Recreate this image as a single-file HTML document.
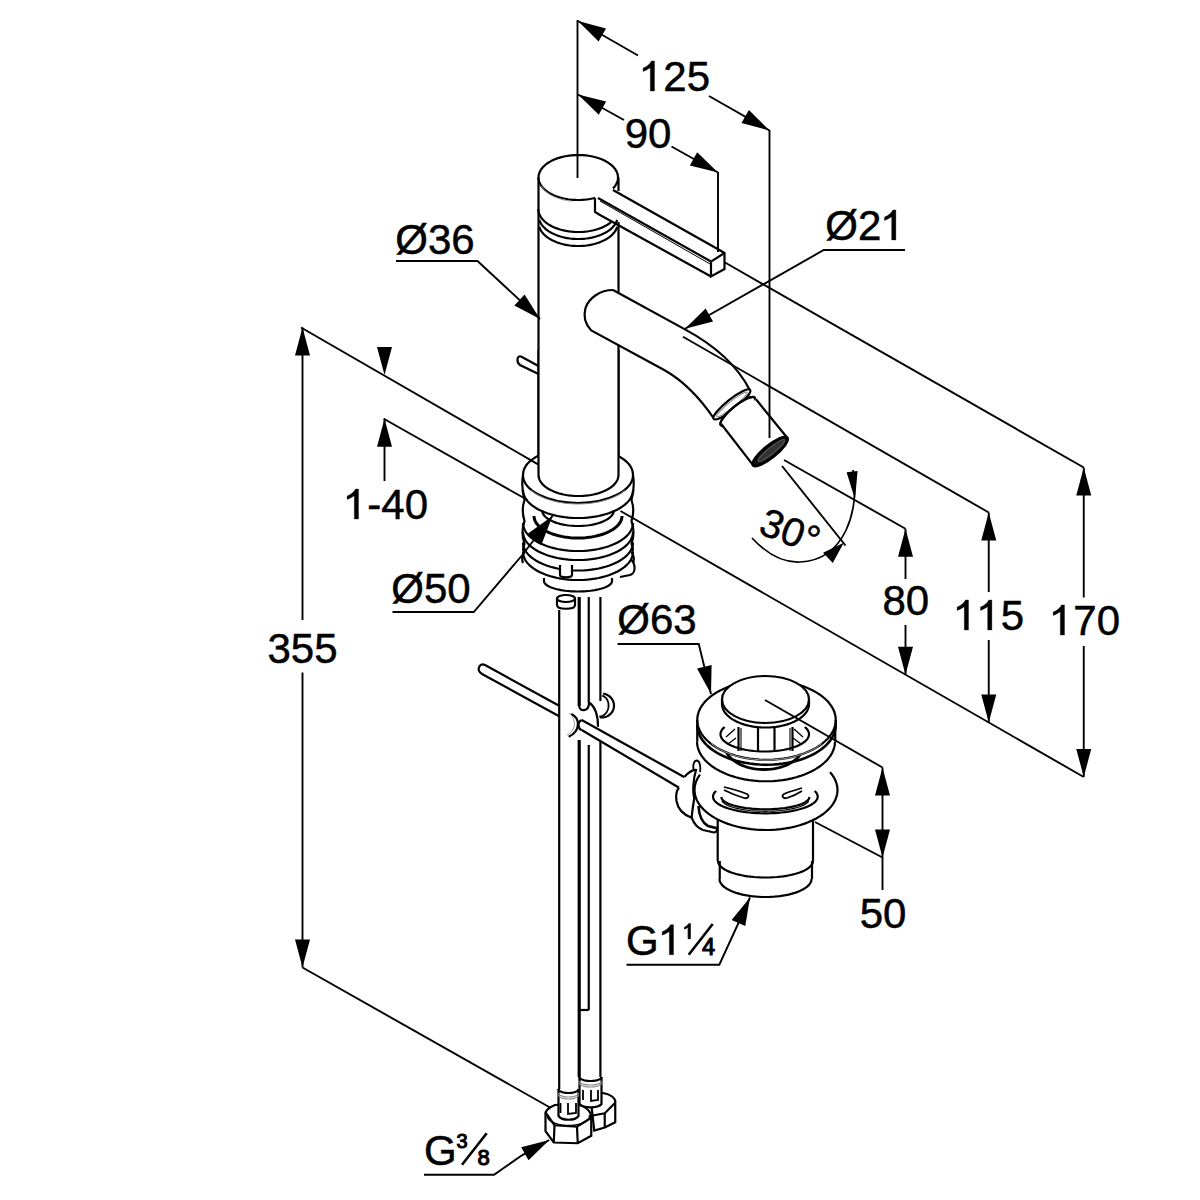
<!DOCTYPE html>
<html><head><meta charset="utf-8"><style>
html,body{margin:0;padding:0;background:#fff;width:1200px;height:1200px;overflow:hidden}
svg{display:block}
text{font-family:"Liberation Sans",sans-serif;fill:#000;stroke:#000;stroke-width:0.5px}
</style></head><body>
<svg width="1200" height="1200" viewBox="0 0 1200 1200">
<rect width="1200" height="1200" fill="#fff"/>
<g stroke="#000" stroke-linecap="butt" stroke-linejoin="miter" fill="none">
<polyline points="595.05,197.89 592.50,198.51 589.87,199.02 587.19,199.42 584.47,199.72 581.71,199.91 578.94,200.00 576.17,199.97 573.41,199.83 570.67,199.59 567.96,199.23 565.31,198.77 562.72,198.21 560.20,197.55 557.78,196.79 555.45,195.93 553.23,194.99 551.14,193.96 549.18,192.84 547.36,191.66 545.69,190.41 544.18,189.09 542.83,187.71 541.66,186.29 540.67,184.83 539.85,183.32 539.23,181.79 538.80,180.24 538.55,178.68 538.51,177.11 538.65,175.54 538.99,173.98 539.52,172.44 540.24,170.92 541.14,169.44 542.22,167.99 543.48,166.59 544.91,165.25 546.50,163.96 548.25,162.74 550.14,161.59 552.17,160.52 554.33,159.53 556.60,158.63 558.98,157.82 561.45,157.11 564.00,156.49 566.63,155.98 569.31,155.58 572.03,155.28 574.79,155.09 577.56,155.00 580.33,155.03 583.09,155.17 585.83,155.41 588.54,155.77 591.19,156.23 593.78,156.79 596.30,157.45 598.72,158.21 601.05,159.07 603.27,160.01 605.36,161.04 607.32,162.16 609.14,163.34 610.81,164.59 612.32,165.91 613.67,167.29 614.84,168.71 615.83,170.17 616.65,171.68 617.27,173.21 617.70,174.76 617.95,176.32 617.99,177.89 617.85,179.46 617.51,181.02 616.98,182.56 616.26,184.08 615.36,185.56 614.28,187.01 613.02,188.41" fill="none" stroke-width="2.2"/>
<polyline points="571.65,201.18 569.02,200.87 566.43,200.46 563.90,199.95 561.44,199.33 559.07,198.63 556.79,197.83 554.63,196.95 552.58,195.98 550.66,194.94 548.88,193.82 547.24,192.64 545.76,191.39 544.45,190.09 543.30,188.75 542.33,187.36 541.54,185.94" fill="none" stroke-width="1" stroke="#999"/>
<line x1="538.50" y1="177.50" x2="538.50" y2="475.00" stroke-width="2.2"/>
<line x1="618.50" y1="177.50" x2="618.50" y2="191.00" stroke-width="2.2"/>
<polyline points="611.02,222.19 609.32,223.48 607.48,224.70 605.49,225.84 603.36,226.90 601.11,227.87 598.75,228.75 596.29,229.53 593.74,230.21 591.11,230.78 588.42,231.24 585.67,231.60 582.89,231.84 580.09,231.98 577.28,231.99 574.47,231.90 571.69,231.69 568.93,231.37 566.22,230.94 563.57,230.40 560.99,229.75 558.50,229.00 556.11,228.15 553.82,227.21 551.66,226.18 549.62,225.07 547.73,223.87 545.99,222.60 544.41,221.26 543.00,219.87 541.76,218.42 540.70,216.92 539.82,215.38 539.14,213.81 538.64,212.22 538.35,210.62 538.25,209.00" fill="none" stroke-width="2.2"/>
<polyline points="617.15,219.99 616.58,221.56 615.82,223.11 614.87,224.62 613.75,226.08 612.46,227.50 611.00,228.86 609.38,230.16 607.60,231.39 605.69,232.54 603.64,233.62 601.47,234.61 599.18,235.51 596.79,236.31 594.32,237.01 591.76,237.61 589.14,238.11 586.46,238.50 583.75,238.78 581.01,238.94 578.25,239.00 575.49,238.94 572.75,238.78 570.04,238.50 567.36,238.11 564.74,237.61 562.18,237.01 559.71,236.31 557.32,235.51 555.03,234.61 552.86,233.62 550.81,232.54 548.90,231.39 547.12,230.16 545.50,228.86 544.04,227.50 542.75,226.08 541.63,224.62 540.68,223.11 539.92,221.56 539.35,219.99" fill="none" stroke-width="2.2"/>
<polyline points="617.15,226.99 616.58,228.56 615.82,230.11 614.87,231.62 613.75,233.08 612.46,234.50 611.00,235.86 609.38,237.16 607.60,238.39 605.69,239.54 603.64,240.62 601.47,241.61 599.18,242.51 596.79,243.31 594.32,244.01 591.76,244.61 589.14,245.11 586.46,245.50 583.75,245.78 581.01,245.94 578.25,246.00 575.49,245.94 572.75,245.78 570.04,245.50 567.36,245.11 564.74,244.61 562.18,244.01 559.71,243.31 557.32,242.51 555.03,241.61 552.86,240.62 550.81,239.54 548.90,238.39 547.12,237.16 545.50,235.86 544.04,234.50 542.75,233.08 541.63,231.62 540.68,230.11 539.92,228.56 539.35,226.99" fill="none" stroke-width="2.2"/>
<line x1="618.50" y1="222.00" x2="618.50" y2="292.70" stroke-width="2.2"/>
<line x1="618.50" y1="344.80" x2="618.50" y2="475.00" stroke-width="2.2"/>
<polyline points="613.00,190.00 718.50,249.50 724.50,253.00 724.50,269.00 711.00,276.50 711.00,261.50 724.50,253.00" fill="none" stroke-width="2.2"/>
<line x1="598.00" y1="198.00" x2="711.00" y2="261.50" stroke-width="2.2"/>
<polyline points="595.00,198.00 595.00,212.00 600.00,215.00 711.00,276.50" fill="none" stroke-width="2.2"/>
<line x1="600.00" y1="201.00" x2="711.00" y2="264.50" stroke-width="1"/>
<path d="M 538.5,366 L 521,356.5 C 517,355 516,362 520,365 L 538.5,374" fill="none" stroke-width="2.2"/>
<path d="M 613,290 L 685,329.4 C 712,344 737,365 749.6,389.8" fill="none" stroke-width="2.2"/>
<path d="M 613,290 C 600,290 589,298 585.5,308 C 583,317 586,325 591.25,330.4 L 664.2,370 C 682,380 700,398 714.2,419" fill="none" stroke-width="2.2"/>
<ellipse cx="731.9" cy="404.4" rx="23.3" ry="5.2" transform="rotate(-38.6 731.9 404.4)" fill="#fff" stroke-width="2.2"/>
<ellipse cx="731.9" cy="404.4" rx="19.5" ry="3" transform="rotate(-38.6 731.9 404.4)" fill="none" stroke-width="1" stroke="#888"/>
<ellipse cx="737.8" cy="411.5" rx="21.85" ry="6" transform="rotate(-39 737.8 411.5)" fill="#fff" stroke-width="2.2"/>
<polygon points="721.2,423.5 753.25,465.3 787.2,437.8 756,399.3" fill="#fff" stroke="none"/>
<line x1="721.20" y1="424.00" x2="753.25" y2="465.30" stroke-width="2.2"/>
<line x1="756.00" y1="399.30" x2="787.20" y2="437.80" stroke-width="2.2"/>
<ellipse cx="770.2" cy="451.5" rx="21.85" ry="6" transform="rotate(-39 770.2 451.5)" fill="#111" stroke-width="2.8"/>
<ellipse cx="771.5" cy="450.5" rx="17" ry="3.2" transform="rotate(-39 771.5 450.5)" fill="#333" stroke-width="1" stroke="#555"/>
<polyline points="720.82,425.25 720.60,424.89 720.46,424.47 720.41,423.98 720.44,423.43 720.55,422.83 720.75,422.17 721.03,421.45 721.40,420.69 721.84,419.88 722.36,419.04 722.96,418.15 723.63,417.24 724.37,416.29 725.17,415.32 726.04,414.34 726.96,413.34 727.94,412.33 728.96,411.31 730.03,410.30 731.13,409.30 732.27,408.30 733.43,407.32 734.62,406.36 735.82,405.43 737.03,404.52 738.24,403.65 739.46,402.82 740.66,402.03 741.85,401.28 743.02,400.59 744.17,399.95 745.28,399.36 746.36,398.83 747.39,398.37 748.38,397.97 749.32,397.63 750.20,397.37 751.02,397.17 751.78,397.04 752.47,396.98 753.08,397.00 753.62,397.08 754.09,397.23 754.48,397.46 754.78,397.75" fill="none" stroke-width="2.2"/>
<path d="M 627,558 C 636,560 637,573 630,575 L 620,577" fill="#fff" stroke-width="2.2"/>
<polyline points="612.00,581.00 611.92,581.73 611.67,582.46 611.26,583.18 610.68,583.89 609.95,584.59 609.06,585.27 608.02,585.93 606.83,586.56 605.51,587.17 604.05,587.75 602.46,588.29 600.75,588.80 598.93,589.27 597.01,589.70 595.00,590.09 592.90,590.44 590.74,590.74 588.51,590.99 586.23,591.19 583.90,591.34 581.55,591.44 579.19,591.49 576.81,591.49 574.45,591.44 572.10,591.34 569.77,591.19 567.49,590.99 565.26,590.74 563.10,590.44 561.00,590.09 558.99,589.70 557.07,589.27 555.25,588.80 553.54,588.29 551.95,587.75 550.49,587.17 549.17,586.56 547.98,585.93 546.94,585.27 546.05,584.59 545.32,583.89 544.74,583.18 544.33,582.46 544.08,581.73 544.00,581.00" fill="none" stroke-width="2.2"/>
<line x1="544.00" y1="578.00" x2="544.00" y2="581.00" stroke-width="2.2"/>
<line x1="612.00" y1="578.00" x2="612.00" y2="581.00" stroke-width="2.2"/>
<rect x="523" y="475" width="110" height="77" fill="#fff" stroke="none"/>
<ellipse cx="578" cy="552" rx="55" ry="28" transform="rotate(0 578 552)" fill="#fff" stroke-width="0" stroke="none"/>
<path d="M 523,475 Q 521,488 524.5,500 Q 521,510 524.5,521 Q 520.5,532 524.5,544 Q 522,548.5 524,553 Q 521,558 523,563" fill="none" stroke-width="2.2"/>
<path d="M 633,475 Q 635,488 631.5,500 Q 635,510 631.5,521 Q 635.5,532 631.5,544 Q 634,548.5 632,553 Q 635,558 633,563" fill="none" stroke-width="2.2"/>
<polyline points="633.00,552.00 632.87,553.95 632.46,555.90 631.80,557.82 630.87,559.72 629.68,561.58 628.25,563.39 626.56,565.15 624.64,566.84 622.50,568.46 620.13,570.00 617.56,571.45 614.80,572.81 611.86,574.06 608.76,575.21 605.50,576.25 602.11,577.17 598.60,577.96 595.00,578.63 591.31,579.17 587.55,579.57 583.75,579.85 579.92,579.98 576.08,579.98 572.25,579.85 568.45,579.57 564.69,579.17 561.00,578.63 557.40,577.96 553.89,577.17 550.50,576.25 547.24,575.21 544.14,574.06 541.20,572.81 538.44,571.45 535.87,570.00 533.50,568.46 531.36,566.84 529.44,565.15 527.75,563.39 526.32,561.58 525.13,559.72 524.20,557.82 523.54,555.90 523.13,553.95 523.00,552.00" fill="none" stroke-width="2.2"/>
<polyline points="633.00,542.50 632.87,544.45 632.46,546.40 631.80,548.32 630.87,550.22 629.68,552.08 628.25,553.89 626.56,555.65 624.64,557.34 622.50,558.96 620.13,560.50 617.56,561.95 614.80,563.31 611.86,564.56 608.76,565.71 605.50,566.75 602.11,567.67 598.60,568.46 595.00,569.13 591.31,569.67 587.55,570.07 583.75,570.35 579.92,570.48 576.08,570.48 572.25,570.35 568.45,570.07 564.69,569.67 561.00,569.13 557.40,568.46 553.89,567.67 550.50,566.75 547.24,565.71 544.14,564.56 541.20,563.31 538.44,561.95 535.87,560.50 533.50,558.96 531.36,557.34 529.44,555.65 527.75,553.89 526.32,552.08 525.13,550.22 524.20,548.32 523.54,546.40 523.13,544.45 523.00,542.50" fill="none" stroke-width="2.2"/>
<polyline points="633.00,532.00 632.87,533.95 632.46,535.90 631.80,537.82 630.87,539.72 629.68,541.58 628.25,543.39 626.56,545.15 624.64,546.84 622.50,548.46 620.13,550.00 617.56,551.45 614.80,552.81 611.86,554.06 608.76,555.21 605.50,556.25 602.11,557.17 598.60,557.96 595.00,558.63 591.31,559.17 587.55,559.57 583.75,559.85 579.92,559.98 576.08,559.98 572.25,559.85 568.45,559.57 564.69,559.17 561.00,558.63 557.40,557.96 553.89,557.17 550.50,556.25 547.24,555.21 544.14,554.06 541.20,552.81 538.44,551.45 535.87,550.00 533.50,548.46 531.36,546.84 529.44,545.15 527.75,543.39 526.32,541.58 525.13,539.72 524.20,537.82 523.54,535.90 523.13,533.95 523.00,532.00" fill="none" stroke-width="2.2"/>
<polyline points="633.00,523.00 632.87,524.95 632.46,526.90 631.80,528.82 630.87,530.72 629.68,532.58 628.25,534.39 626.56,536.15 624.64,537.84 622.50,539.46 620.13,541.00 617.56,542.45 614.80,543.81 611.86,545.06 608.76,546.21 605.50,547.25 602.11,548.17 598.60,548.96 595.00,549.63 591.31,550.17 587.55,550.57 583.75,550.85 579.92,550.98 576.08,550.98 572.25,550.85 568.45,550.57 564.69,550.17 561.00,549.63 557.40,548.96 553.89,548.17 550.50,547.25 547.24,546.21 544.14,545.06 541.20,543.81 538.44,542.45 535.87,541.00 533.50,539.46 531.36,537.84 529.44,536.15 527.75,534.39 526.32,532.58 525.13,530.72 524.20,528.82 523.54,526.90 523.13,524.95 523.00,523.00" fill="none" stroke-width="2.2"/>
<polyline points="622.00,516.00 621.89,517.53 621.57,519.06 621.04,520.57 620.30,522.06 619.35,523.52 618.20,524.95 616.85,526.33 615.31,527.66 613.60,528.93 611.71,530.14 609.65,531.28 607.44,532.35 605.09,533.34 602.60,534.24 600.00,535.05 597.29,535.77 594.48,536.40 591.60,536.92 588.64,537.35 585.64,537.67 582.60,537.88 579.54,537.99 576.46,537.99 573.40,537.88 570.36,537.67 567.36,537.35 564.40,536.92 561.52,536.40 558.71,535.77 556.00,535.05 553.40,534.24 550.91,533.34 548.56,532.35 546.35,531.28 544.29,530.14 542.40,528.93 540.69,527.66 539.15,526.33 537.80,524.95 536.65,523.52 535.70,522.06 534.96,520.57 534.43,519.06 534.11,517.53 534.00,516.00" fill="none" stroke-width="3"/>
<polyline points="614.00,510.00 613.91,511.12 613.65,512.23 613.21,513.33 612.61,514.41 611.83,515.47 610.89,516.51 609.79,517.51 608.53,518.48 607.12,519.40 605.58,520.28 603.90,521.11 602.09,521.89 600.16,522.61 598.13,523.26 596.00,523.86 593.78,524.38 591.49,524.83 589.12,525.22 586.71,525.52 584.25,525.76 581.76,525.91 579.26,525.99 576.74,525.99 574.24,525.91 571.75,525.76 569.29,525.52 566.88,525.22 564.51,524.83 562.22,524.38 560.00,523.86 557.87,523.26 555.84,522.61 553.91,521.89 552.10,521.11 550.42,520.28 548.88,519.40 547.47,518.48 546.21,517.51 545.11,516.51 544.17,515.47 543.39,514.41 542.79,513.33 542.35,512.23 542.09,511.12 542.00,510.00" fill="none" stroke-width="2.2"/>
<polyline points="633.00,490.00 632.87,491.95 632.46,493.90 631.80,495.82 630.87,497.72 629.68,499.58 628.25,501.39 626.56,503.15 624.64,504.84 622.50,506.46 620.13,508.00 617.56,509.45 614.80,510.81 611.86,512.06 608.76,513.21 605.50,514.25 602.11,515.17 598.60,515.96 595.00,516.63 591.31,517.17 587.55,517.57 583.75,517.85 579.92,517.98 576.08,517.98 572.25,517.85 568.45,517.57 564.69,517.17 561.00,516.63 557.40,515.96 553.89,515.17 550.50,514.25 547.24,513.21 544.14,512.06 541.20,510.81 538.44,509.45 535.87,508.00 533.50,506.46 531.36,504.84 529.44,503.15 527.75,501.39 526.32,499.58 525.13,497.72 524.20,495.82 523.54,493.90 523.13,491.95 523.00,490.00" fill="none" stroke-width="2.2"/>
<ellipse cx="578" cy="475" rx="55" ry="28" transform="rotate(0 578 475)" fill="#fff" stroke-width="2.2"/>
<polyline points="624.77,490.25 622.77,491.88 620.55,493.43 618.13,494.90 615.51,496.28 612.71,497.57 609.74,498.75 606.62,499.82 603.35,500.78 599.96,501.62 596.47,502.34 592.88,502.93 589.23,503.40 585.52,503.73 581.77,503.93 578.00,504.00 574.23,503.93 570.48,503.73 566.77,503.40 563.12,502.93 559.53,502.34 556.04,501.62 552.65,500.78 549.38,499.82 546.26,498.75 543.29,497.57 540.49,496.28 537.87,494.90 535.45,493.43 533.23,491.88 531.23,490.25" fill="none" stroke-width="1" stroke="#888"/>
<rect x="538.5" y="350" width="80" height="125" fill="#fff" stroke="none"/>
<ellipse cx="578.5" cy="475" rx="40" ry="21" transform="rotate(0 578.5 475)" fill="#fff" stroke-width="0" stroke="none"/>
<line x1="538.50" y1="350.00" x2="538.50" y2="475.00" stroke-width="2.2"/>
<line x1="618.50" y1="350.00" x2="618.50" y2="475.00" stroke-width="2.2"/>
<polyline points="618.50,475.00 618.40,476.46 618.11,477.92 617.63,479.37 616.95,480.79 616.09,482.18 615.04,483.54 613.82,484.86 612.42,486.13 610.86,487.34 609.14,488.50 607.27,489.59 605.27,490.61 603.13,491.55 600.87,492.41 598.50,493.19 596.03,493.87 593.48,494.47 590.86,494.97 588.18,495.38 585.45,495.68 582.68,495.88 579.90,495.99 577.10,495.99 574.32,495.88 571.55,495.68 568.82,495.38 566.14,494.97 563.52,494.47 560.97,493.87 558.50,493.19 556.13,492.41 553.87,491.55 551.73,490.61 549.73,489.59 547.86,488.50 546.14,487.34 544.58,486.13 543.18,484.86 541.96,483.54 540.91,482.18 540.05,480.79 539.37,479.37 538.89,477.92 538.60,476.46 538.50,475.00" fill="none" stroke-width="2.2"/>
<path d="M 560,565 L 560,575 C 560,578 572,578 572,575 L 572,565" fill="#fff" stroke-width="2.2"/>
<path d="M 557,598.5 L 557,605 C 557,610 575,610 575,605 L 575,598.5" fill="#fff" stroke-width="2.2"/>
<ellipse cx="566" cy="598.5" rx="9" ry="3.5" transform="rotate(0 566 598.5)" fill="#fff" stroke-width="2.2"/>
<line x1="559.20" y1="610.00" x2="559.20" y2="1091.00" stroke-width="2.2"/>
<line x1="579.20" y1="597.00" x2="579.20" y2="706.00" stroke-width="3.2"/>
<line x1="579.20" y1="740.00" x2="579.20" y2="1077.00" stroke-width="3.2"/>
<line x1="588.75" y1="597.00" x2="588.75" y2="703.00" stroke-width="2.2"/>
<line x1="588.75" y1="745.00" x2="588.75" y2="1010.00" stroke-width="2.2"/>
<line x1="600.40" y1="597.00" x2="600.40" y2="701.00" stroke-width="2.2"/>
<line x1="600.40" y1="742.00" x2="600.40" y2="1080.00" stroke-width="2.2"/>
<path d="M 579.2,706 C 579.2,712 589,712 589,703" fill="none" stroke-width="2.2"/>
<line x1="580.00" y1="1010.00" x2="588.75" y2="1010.00" stroke-width="2.2"/>
<path d="M 558.7,705.5 L 485,665 C 479,662 476,671 482,674 L 558.7,716" fill="none" stroke-width="2.2"/>
<path d="M 581.7,720 L 685,777.5 M 581.7,730 L 679.5,788" fill="none" stroke-width="2.2"/>
<path d="M 581.7,720 C 577,722 578,729 581.7,730" fill="none" stroke-width="2.2"/>
<path d="M 571.3,714 C 580,718 581,731 568.7,736.7" fill="none" stroke-width="2.2"/>
<path d="M 569,713 C 576,719 577,730 567,735" fill="none" stroke-width="1" stroke="#999"/>
<path d="M 589.3,702.7 C 594,706 598,712 598,726.7" fill="none" stroke-width="2.2"/>
<polyline points="603.17,693.62 604.03,693.77 604.88,693.97 605.71,694.24 606.52,694.56 607.30,694.93 608.06,695.35 608.79,695.82 609.48,696.34 610.13,696.91 610.74,697.52 611.30,698.16 611.82,698.84 612.28,699.55 612.70,700.30 613.06,701.06 613.36,701.85 613.60,702.66 613.79,703.48 613.91,704.31 613.98,705.15 613.99,705.99 613.93,706.82 613.81,707.65 613.64,708.47 613.40,709.28 613.11,710.06 612.76,710.83 612.35,711.56 611.89,712.27 611.38,712.95 610.83,713.59 610.23,714.19 609.58,714.74 608.90,715.26 608.18,715.72 607.42,716.14 606.64,716.50 605.84,716.81 605.01,717.06 604.16,717.26 603.31,717.40 602.44,717.49 601.57,717.51 600.70,717.48 599.83,717.38" fill="none" stroke-width="2.2"/>
<polyline points="602.19,695.74 602.77,695.92 603.33,696.14 603.88,696.41 604.41,696.73 604.91,697.10 605.39,697.51 605.85,697.96 606.27,698.46 606.67,698.99 607.03,699.55 607.35,700.15 607.64,700.78 607.89,701.43 608.10,702.11 608.27,702.80 608.40,703.51 608.49,704.24 608.54,704.97 608.54,705.71 608.50,706.45 608.42,707.18 608.29,707.91 608.13,708.64 607.92,709.34 607.68,710.04 607.39,710.71 607.07,711.35 606.72,711.98 606.33,712.57 605.90,713.13 605.45,713.65 604.98,714.13 604.47,714.58 603.95,714.98 603.40,715.34 602.84,715.65 602.27,715.91 601.68,716.12 601.08,716.28 600.48,716.40 599.88,716.45 599.28,716.46" fill="none" stroke-width="1.8"/>
<path d="M 592.75,1117 L 594.25,1130.5 L 604.75,1127.5 L 615.25,1122.25 L 615.25,1102.75 C 616,1097 608,1093 598,1092.5 L 590,1094 Z" fill="#fff" stroke-width="2.2"/>
<line x1="604.75" y1="1113.25" x2="604.75" y2="1127.50" stroke-width="2.2"/>
<path d="M 592.75,1115.5 L 604.75,1113.25 L 615.25,1102.75" fill="none" stroke-width="2.2"/>
<path d="M 579.5,1077 L 579.5,1104 C 583,1108.5 598,1108.5 601.5,1104 L 601.5,1077" fill="#fff" stroke-width="2.2"/>
<polyline points="601.50,1077.00 601.47,1077.28 601.39,1077.56 601.26,1077.83 601.07,1078.10 600.84,1078.37 600.55,1078.63 600.21,1078.88 599.83,1079.12 599.40,1079.35 598.93,1079.57 598.41,1079.78 597.86,1079.97 597.27,1080.15 596.65,1080.32 596.00,1080.46 595.32,1080.60 594.62,1080.71 593.90,1080.80 593.16,1080.88 592.41,1080.94 591.65,1080.98 590.88,1081.00 590.12,1081.00 589.35,1080.98 588.59,1080.94 587.84,1080.88 587.10,1080.80 586.38,1080.71 585.68,1080.60 585.00,1080.46 584.35,1080.32 583.73,1080.15 583.14,1079.97 582.59,1079.78 582.07,1079.57 581.60,1079.35 581.17,1079.12 580.79,1078.88 580.45,1078.63 580.16,1078.37 579.93,1078.10 579.74,1077.83 579.61,1077.56 579.53,1077.28 579.50,1077.00" fill="none" stroke-width="2.2"/>
<polyline points="601.50,1081.00 601.47,1081.28 601.39,1081.56 601.26,1081.83 601.07,1082.10 600.84,1082.37 600.55,1082.63 600.21,1082.88 599.83,1083.12 599.40,1083.35 598.93,1083.57 598.41,1083.78 597.86,1083.97 597.27,1084.15 596.65,1084.32 596.00,1084.46 595.32,1084.60 594.62,1084.71 593.90,1084.80 593.16,1084.88 592.41,1084.94 591.65,1084.98 590.88,1085.00 590.12,1085.00 589.35,1084.98 588.59,1084.94 587.84,1084.88 587.10,1084.80 586.38,1084.71 585.68,1084.60 585.00,1084.46 584.35,1084.32 583.73,1084.15 583.14,1083.97 582.59,1083.78 582.07,1083.57 581.60,1083.35 581.17,1083.12 580.79,1082.88 580.45,1082.63 580.16,1082.37 579.93,1082.10 579.74,1081.83 579.61,1081.56 579.53,1081.28 579.50,1081.00" fill="none" stroke-width="1.2" stroke="#888"/>
<polyline points="601.50,1083.00 601.47,1083.28 601.39,1083.56 601.26,1083.83 601.07,1084.10 600.84,1084.37 600.55,1084.63 600.21,1084.88 599.83,1085.12 599.40,1085.35 598.93,1085.57 598.41,1085.78 597.86,1085.97 597.27,1086.15 596.65,1086.32 596.00,1086.46 595.32,1086.60 594.62,1086.71 593.90,1086.80 593.16,1086.88 592.41,1086.94 591.65,1086.98 590.88,1087.00 590.12,1087.00 589.35,1086.98 588.59,1086.94 587.84,1086.88 587.10,1086.80 586.38,1086.71 585.68,1086.60 585.00,1086.46 584.35,1086.32 583.73,1086.15 583.14,1085.97 582.59,1085.78 582.07,1085.57 581.60,1085.35 581.17,1085.12 580.79,1084.88 580.45,1084.63 580.16,1084.37 579.93,1084.10 579.74,1083.83 579.61,1083.56 579.53,1083.28 579.50,1083.00" fill="none" stroke-width="1.2" stroke="#888"/>
<path d="M 583,1090 L 583,1100 M 591,1090 L 591,1101 L 598,1100 L 598,1090" fill="none" stroke-width="1.8"/>
<path d="M 545.5,1112.5 L 545.5,1131.25 L 553.75,1142.5 L 577.75,1143.25 L 591.25,1135.75 L 591.25,1117.75 C 591,1110 584,1105 572,1104 L 555,1105 C 550,1107 547,1109 545.5,1112.5 Z" fill="#fff" stroke-width="2.2"/>
<path d="M 545.5,1112.5 L 554.5,1125.25 L 577,1126.75 L 591.25,1117.75" fill="none" stroke-width="2.2"/>
<line x1="554.50" y1="1125.25" x2="553.75" y2="1142.50" stroke-width="2.2"/>
<line x1="577.00" y1="1126.75" x2="577.75" y2="1143.25" stroke-width="2.2"/>
<polyline points="589.42,1115.17 589.50,1115.84 589.47,1116.51 589.34,1117.18 589.10,1117.84 588.76,1118.49 588.33,1119.13 587.79,1119.76 587.15,1120.36 586.43,1120.95 585.61,1121.51 584.71,1122.04 583.73,1122.54 582.67,1123.01 581.55,1123.44 580.35,1123.84 579.10,1124.20 577.80,1124.52 576.45,1124.79 575.06,1125.03 573.63,1125.21 572.19,1125.35 570.72,1125.45 569.24,1125.49 567.76,1125.49 566.28,1125.45 564.81,1125.35 563.37,1125.21 561.94,1125.03 560.55,1124.79 559.20,1124.52 557.90,1124.20 556.65,1123.84 555.45,1123.44 554.33,1123.01 553.27,1122.54 552.29,1122.04 551.39,1121.51 550.57,1120.95 549.85,1120.36 549.21,1119.76 548.67,1119.13 548.24,1118.49 547.90,1117.84 547.66,1117.18 547.53,1116.51 547.50,1115.84 547.58,1115.17" fill="none" stroke-width="1.6"/>
<path d="M 558.5,1089 L 558.5,1116 C 562,1121 575,1121 578.5,1116 L 578.5,1089" fill="#fff" stroke-width="2.2"/>
<polyline points="578.50,1089.00 578.48,1089.28 578.40,1089.56 578.28,1089.83 578.11,1090.10 577.90,1090.37 577.64,1090.63 577.33,1090.88 576.98,1091.12 576.59,1091.35 576.16,1091.57 575.69,1091.78 575.19,1091.97 574.66,1092.15 574.09,1092.32 573.50,1092.46 572.88,1092.60 572.25,1092.71 571.59,1092.80 570.92,1092.88 570.24,1092.94 569.55,1092.98 568.85,1093.00 568.15,1093.00 567.45,1092.98 566.76,1092.94 566.08,1092.88 565.41,1092.80 564.75,1092.71 564.12,1092.60 563.50,1092.46 562.91,1092.32 562.34,1092.15 561.81,1091.97 561.31,1091.78 560.84,1091.57 560.41,1091.35 560.02,1091.12 559.67,1090.88 559.36,1090.63 559.10,1090.37 558.89,1090.10 558.72,1089.83 558.60,1089.56 558.52,1089.28 558.50,1089.00" fill="none" stroke-width="2.2"/>
<polyline points="578.50,1093.00 578.48,1093.28 578.40,1093.56 578.28,1093.83 578.11,1094.10 577.90,1094.37 577.64,1094.63 577.33,1094.88 576.98,1095.12 576.59,1095.35 576.16,1095.57 575.69,1095.78 575.19,1095.97 574.66,1096.15 574.09,1096.32 573.50,1096.46 572.88,1096.60 572.25,1096.71 571.59,1096.80 570.92,1096.88 570.24,1096.94 569.55,1096.98 568.85,1097.00 568.15,1097.00 567.45,1096.98 566.76,1096.94 566.08,1096.88 565.41,1096.80 564.75,1096.71 564.12,1096.60 563.50,1096.46 562.91,1096.32 562.34,1096.15 561.81,1095.97 561.31,1095.78 560.84,1095.57 560.41,1095.35 560.02,1095.12 559.67,1094.88 559.36,1094.63 559.10,1094.37 558.89,1094.10 558.72,1093.83 558.60,1093.56 558.52,1093.28 558.50,1093.00" fill="none" stroke-width="1.2" stroke="#888"/>
<polyline points="578.50,1095.00 578.48,1095.28 578.40,1095.56 578.28,1095.83 578.11,1096.10 577.90,1096.37 577.64,1096.63 577.33,1096.88 576.98,1097.12 576.59,1097.35 576.16,1097.57 575.69,1097.78 575.19,1097.97 574.66,1098.15 574.09,1098.32 573.50,1098.46 572.88,1098.60 572.25,1098.71 571.59,1098.80 570.92,1098.88 570.24,1098.94 569.55,1098.98 568.85,1099.00 568.15,1099.00 567.45,1098.98 566.76,1098.94 566.08,1098.88 565.41,1098.80 564.75,1098.71 564.12,1098.60 563.50,1098.46 562.91,1098.32 562.34,1098.15 561.81,1097.97 561.31,1097.78 560.84,1097.57 560.41,1097.35 560.02,1097.12 559.67,1096.88 559.36,1096.63 559.10,1096.37 558.89,1096.10 558.72,1095.83 558.60,1095.56 558.52,1095.28 558.50,1095.00" fill="none" stroke-width="1.2" stroke="#888"/>
<path d="M 560.5,1103 L 560.5,1113 M 568,1103 L 568,1114 L 576,1113 L 576,1103" fill="none" stroke-width="1.8"/>
<rect x="717.7" y="815" width="95.3" height="50" fill="#fff" stroke="none"/>
<line x1="717.70" y1="815.00" x2="717.70" y2="861.00" stroke-width="2.2"/>
<line x1="813.00" y1="815.00" x2="813.00" y2="861.00" stroke-width="2.2"/>
<polyline points="813.00,861.00 812.88,862.15 812.54,863.30 811.96,864.43 811.16,865.55 810.14,866.64 808.89,867.71 807.44,868.75 805.78,869.74 803.93,870.70 801.89,871.61 799.67,872.46 797.28,873.26 794.74,874.00 792.06,874.68 789.25,875.29 786.32,875.83 783.29,876.30 780.18,876.69 776.99,877.01 773.75,877.25 770.47,877.41 767.16,877.49 763.84,877.49 760.53,877.41 757.25,877.25 754.01,877.01 750.82,876.69 747.71,876.30 744.68,875.83 741.75,875.29 738.94,874.68 736.26,874.00 733.72,873.26 731.33,872.46 729.11,871.61 727.07,870.70 725.22,869.74 723.56,868.75 722.11,867.71 720.86,866.64 719.84,865.55 719.04,864.43 718.46,863.30 718.12,862.15 718.00,861.00" fill="none" stroke-width="2.2"/>
<line x1="719.75" y1="861.00" x2="719.75" y2="879.00" stroke-width="2.2"/>
<line x1="812.00" y1="861.00" x2="812.00" y2="879.00" stroke-width="2.2"/>
<polyline points="811.50,879.00 811.39,880.26 811.05,881.51 810.49,882.74 809.72,883.96 808.73,885.16 807.52,886.32 806.12,887.45 804.51,888.54 802.71,889.58 800.74,890.57 798.59,891.50 796.28,892.38 793.82,893.18 791.22,893.92 788.50,894.59 785.67,895.18 782.73,895.69 779.71,896.12 776.63,896.47 773.49,896.73 770.31,896.90 767.11,896.99 763.89,896.99 760.69,896.90 757.51,896.73 754.37,896.47 751.29,896.12 748.27,895.69 745.33,895.18 742.50,894.59 739.78,893.92 737.18,893.18 734.72,892.38 732.41,891.50 730.26,890.57 728.29,889.58 726.49,888.54 724.88,887.45 723.48,886.32 722.27,885.16 721.28,883.96 720.51,882.74 719.95,881.51 719.61,880.26 719.50,879.00" fill="none" stroke-width="2.2"/>
<ellipse cx="766" cy="790" rx="71.5" ry="40" transform="rotate(0 766 790)" fill="#fff" stroke-width="0" stroke="none"/>
<polyline points="829.99,772.15 832.07,774.71 833.82,777.33 835.24,780.02 836.32,782.76 837.05,785.54 837.44,788.34 837.47,791.14 837.15,793.94 836.48,796.72 835.47,799.47 834.11,802.17 832.42,804.81 830.40,807.38 828.06,809.86 825.42,812.25 822.49,814.52 819.28,816.68 815.80,818.70 812.09,820.58 808.14,822.31 803.99,823.89 799.65,825.29 795.15,826.53 790.50,827.58 785.73,828.45 780.86,829.13 775.92,829.61 770.94,829.90 765.93,830.00 760.91,829.90 755.93,829.60 750.99,829.11 746.13,828.42 741.36,827.55 736.72,826.49 732.22,825.25 727.88,823.84 723.74,822.26 719.80,820.53 716.09,818.64 712.62,816.61 709.42,814.46 706.49,812.18 703.86,809.79 701.54,807.30 699.53,804.73 697.84,802.09 696.50,799.39 695.49,796.64 694.83,793.86 694.53,791.06 694.57,788.25 694.96,785.46 695.71,782.68 696.80,779.94 698.23,777.25 699.99,774.63" fill="none" stroke-width="2.2"/>
<polyline points="814.54,790.96 815.67,792.06 816.56,793.19 817.19,794.33 817.57,795.49 817.70,796.65 817.57,797.81 817.19,798.97 816.56,800.11 815.67,801.24 814.54,802.34 813.17,803.42 811.57,804.47 809.75,805.47 807.70,806.44 805.45,807.35 803.01,808.22 800.38,809.02 797.58,809.77 794.62,810.45 791.52,811.07 788.30,811.61 784.96,812.09 781.53,812.49 778.01,812.81 774.44,813.05 770.82,813.21 767.18,813.29 763.52,813.29 759.88,813.21 756.26,813.05 752.69,812.81 749.17,812.49 745.74,812.09 742.40,811.61 739.18,811.07 736.08,810.45 733.12,809.77 730.32,809.02 727.69,808.22 725.25,807.35 723.00,806.44 720.95,805.47 719.13,804.47 717.53,803.42 716.16,802.34 715.03,801.24 714.14,800.11 713.51,798.97 713.13,797.81 713.00,796.65 713.13,795.49 713.51,794.33 714.14,793.19 715.03,792.06 716.16,790.96" fill="none" stroke-width="2.2"/>
<polyline points="809.35,797.00 809.24,797.86 808.92,798.71 808.39,799.56 807.65,800.39 806.70,801.21 805.55,802.00 804.20,802.77 802.66,803.52 800.95,804.23 799.06,804.91 797.00,805.54 794.79,806.14 792.44,806.69 789.95,807.20 787.35,807.65 784.64,808.06 781.83,808.40 778.95,808.70 775.99,808.93 772.99,809.11 769.95,809.23 766.89,809.29 763.81,809.29 760.75,809.23 757.71,809.11 754.71,808.93 751.75,808.70 748.87,808.40 746.06,808.06 743.35,807.65 740.75,807.20 738.26,806.69 735.91,806.14 733.70,805.54 731.64,804.91 729.75,804.23 728.04,803.52 726.50,802.77 725.15,802.00 724.00,801.21 723.05,800.39 722.31,799.56 721.78,798.71 721.46,797.86 721.35,797.00" fill="none" stroke-width="2.2"/>
<polyline points="808.68,801.14 808.04,801.98 807.20,802.80 806.15,803.61 804.90,804.39 803.46,805.15 801.83,805.88 800.02,806.57 798.05,807.23 795.91,807.85 793.63,808.42 791.21,808.95 788.67,809.43 786.01,809.86 783.25,810.24 780.40,810.56 777.48,810.82 774.50,811.03 771.47,811.18 768.42,811.27 765.35,811.30 762.28,811.27 759.23,811.18 756.20,811.03 753.22,810.82 750.30,810.56 747.45,810.24 744.69,809.86 742.03,809.43 739.49,808.95 737.07,808.42 734.79,807.85 732.65,807.23 730.68,806.57 728.87,805.88 727.24,805.15 725.80,804.39 724.55,803.61 723.50,802.80 722.66,801.98 722.02,801.14" fill="none" stroke-width="1.2"/>
<path d="M 724,787 C 732,789 742,792 747,794 C 750,796 748,799 744,798 C 737,796 728,792 724,790" fill="none" stroke-width="1.8"/>
<path d="M 802,788 C 796,790 788,792 784,794 C 781,796 783,799 787,798 C 793,796 799,793 802,791" fill="none" stroke-width="1.8"/>
<ellipse cx="766" cy="741.5" rx="69" ry="39.75" transform="rotate(0 766 741.5)" fill="#fff" stroke-width="0" stroke="none"/>
<polyline points="835.00,741.50 834.83,744.27 834.33,747.03 833.49,749.76 832.33,752.46 830.84,755.10 829.03,757.67 826.92,760.16 824.52,762.56 821.82,764.86 818.86,767.05 815.63,769.11 812.17,771.04 808.48,772.82 804.58,774.45 800.50,775.92 796.25,777.23 791.85,778.36 787.32,779.30 782.69,780.07 777.98,780.65 773.21,781.03 768.41,781.23 763.59,781.23 758.79,781.03 754.02,780.65 749.31,780.07 744.68,779.30 740.15,778.36 735.75,777.23 731.50,775.92 727.42,774.45 723.52,772.82 719.83,771.04 716.37,769.11 713.14,767.05 710.18,764.86 707.48,762.56 705.08,760.16 702.97,757.67 701.16,755.10 699.67,752.46 698.51,749.76 697.67,747.03 697.17,744.27 697.00,741.50" fill="none" stroke-width="2.2"/>
<line x1="697.25" y1="725.00" x2="697.25" y2="741.50" stroke-width="2.2"/>
<line x1="835.25" y1="725.00" x2="835.25" y2="741.50" stroke-width="2.2"/>
<polyline points="803.00,745.50 802.90,747.17 802.62,748.84 802.15,750.49 801.49,752.12 800.65,753.71 799.63,755.26 798.43,756.77 797.07,758.22 795.55,759.61 793.88,760.93 792.05,762.17 790.10,763.34 788.01,764.41 785.81,765.40 783.50,766.28 781.10,767.07 778.61,767.75 776.05,768.33 773.43,768.79 770.77,769.14 768.08,769.37 765.36,769.49 762.64,769.49 759.92,769.37 757.23,769.14 754.57,768.79 751.95,768.33 749.39,767.75 746.90,767.07 744.50,766.28 742.19,765.40 739.99,764.41 737.90,763.34 735.95,762.17 734.12,760.93 732.45,759.61 730.93,758.22 729.57,756.77 728.37,755.26 727.35,753.71 726.51,752.12 725.85,750.49 725.38,748.84 725.10,747.17 725.00,745.50" fill="none" stroke-width="2.8"/>
<ellipse cx="766.5" cy="720" rx="69.25" ry="39.75" transform="rotate(0 766.5 720)" fill="#fff" stroke-width="0" stroke="none"/>
<rect x="697.25" y="720" width="138.5" height="5" fill="#fff" stroke="none"/>
<polyline points="835.75,725.00 835.58,727.77 835.08,730.53 834.24,733.26 833.07,735.96 831.57,738.60 829.76,741.17 827.64,743.66 825.23,746.06 822.52,748.36 819.55,750.55 816.31,752.61 812.84,754.54 809.13,756.32 805.22,757.95 801.12,759.42 796.86,760.73 792.44,761.86 787.90,762.80 783.25,763.57 778.53,764.15 773.74,764.53 768.92,764.73 764.08,764.73 759.26,764.53 754.47,764.15 749.75,763.57 745.10,762.80 740.56,761.86 736.14,760.73 731.88,759.42 727.78,757.95 723.87,756.32 720.16,754.54 716.69,752.61 713.45,750.55 710.48,748.36 707.77,746.06 705.36,743.66 703.24,741.17 701.43,738.60 699.93,735.96 698.76,733.26 697.92,730.53 697.42,727.77 697.25,725.00" fill="none" stroke-width="2.6"/>
<line x1="697.25" y1="720.00" x2="697.25" y2="725.00" stroke-width="2.2"/>
<line x1="835.75" y1="720.00" x2="835.75" y2="725.00" stroke-width="2.2"/>
<polyline points="835.75,720.00 835.58,722.77 835.08,725.53 834.24,728.26 833.07,730.96 831.57,733.60 829.76,736.17 827.64,738.66 825.23,741.06 822.52,743.36 819.55,745.55 816.31,747.61 812.84,749.54 809.13,751.32 805.22,752.95 801.12,754.42 796.86,755.73 792.44,756.86 787.90,757.80 783.25,758.57 778.53,759.15 773.74,759.53 768.92,759.73 764.08,759.73 759.26,759.53 754.47,759.15 749.75,758.57 745.10,757.80 740.56,756.86 736.14,755.73 731.88,754.42 727.78,752.95 723.87,751.32 720.16,749.54 716.69,747.61 713.45,745.55 710.48,743.36 707.77,741.06 705.36,738.66 703.24,736.17 701.43,733.60 699.93,730.96 698.76,728.26 697.92,725.53 697.42,722.77 697.25,720.00 697.42,717.23 697.92,714.47 698.76,711.74 699.93,709.04 701.43,706.40 703.24,703.83 705.36,701.34 707.77,698.94 710.48,696.64 713.45,694.45 716.69,692.39 720.16,690.46 723.87,688.68 727.78,687.05 731.88,685.58 736.14,684.27 740.56,683.14 745.10,682.20 749.75,681.43 754.47,680.85 759.26,680.47 764.08,680.27 768.92,680.27 773.74,680.47 778.53,680.85 783.25,681.43 787.90,682.20 792.44,683.14 796.86,684.27 801.12,685.58 805.22,687.05 809.13,688.68 812.84,690.46 816.31,692.39 819.55,694.45 822.52,696.64 825.23,698.94 827.64,701.34 829.76,703.83 831.57,706.40 833.07,709.04 834.24,711.74 835.08,714.47 835.58,717.23 835.75,720.00" fill="none" stroke-width="2.2"/>
<polyline points="821.79,743.58 818.90,745.77 815.75,747.83 812.34,749.76 808.71,751.55 804.86,753.18 800.82,754.65 796.60,755.96 792.23,757.09 787.73,758.05 783.13,758.81 778.44,759.39 773.69,759.78 768.90,759.98 764.10,759.98 759.31,759.78 754.56,759.39 749.87,758.81 745.27,758.05 740.77,757.09 736.40,755.96 732.18,754.65 728.14,753.18 724.29,751.55 720.66,749.76 717.25,747.83 714.10,745.77 711.21,743.58" fill="none" stroke-width="1" stroke="#999"/>
<polyline points="804.85,726.96 806.07,728.08 807.08,729.23 807.88,730.40 808.47,731.59 808.84,732.80 809.00,734.01 808.93,735.23 808.64,736.44 808.14,737.63 807.42,738.82 806.49,739.98 805.35,741.11 804.02,742.20 802.48,743.26 800.76,744.27 798.86,745.24 796.80,746.15 794.57,746.99 792.20,747.78 789.68,748.50 787.05,749.15 784.31,749.72 781.46,750.22 778.54,750.64 775.55,750.98 772.50,751.23 769.42,751.40 766.31,751.49 763.19,751.49 760.08,751.40 757.00,751.23 753.95,750.98 750.96,750.64 748.04,750.22 745.19,749.72 742.45,749.15 739.82,748.50 737.30,747.78 734.93,746.99 732.70,746.15 730.64,745.24 728.74,744.27 727.02,743.26 725.48,742.20 724.15,741.11 723.01,739.98 722.08,738.82 721.36,737.63 720.86,736.44 720.57,735.23 720.50,734.01 720.66,732.80 721.03,731.59 721.62,730.40 722.42,729.23 723.43,728.08 724.65,726.96" fill="none" stroke-width="2.2"/>
<line x1="738.50" y1="727.00" x2="738.50" y2="751.00" stroke-width="2.2"/>
<line x1="758.00" y1="727.00" x2="758.00" y2="751.00" stroke-width="2.2"/>
<line x1="774.50" y1="727.00" x2="774.50" y2="751.00" stroke-width="2.2"/>
<line x1="792.50" y1="727.00" x2="792.50" y2="751.00" stroke-width="2.2"/>
<line x1="741.00" y1="728.00" x2="741.00" y2="751.00" stroke-width="1.1"/>
<line x1="790.00" y1="728.00" x2="790.00" y2="751.00" stroke-width="1.1"/>
<path d="M 726,737 L 735,729 M 728,744 L 736,738 M 803,737 M 794,729 L 803,737 M 793,738 L 801,744" fill="none" stroke-width="1.3"/>
<ellipse cx="765.5" cy="699.5" rx="43.5" ry="23.5" transform="rotate(0 765.5 699.5)" fill="#fff" stroke-width="2.2"/>
<polyline points="809.00,704.00 808.89,705.64 808.58,707.27 808.05,708.89 807.31,710.48 806.38,712.04 805.24,713.56 803.91,715.03 802.39,716.45 800.69,717.81 798.82,719.11 796.79,720.32 794.61,721.46 792.28,722.52 789.82,723.48 787.25,724.35 784.57,725.12 781.80,725.79 778.94,726.35 776.02,726.80 773.05,727.14 770.05,727.37 767.02,727.49 763.98,727.49 760.95,727.37 757.95,727.14 754.98,726.80 752.06,726.35 749.20,725.79 746.43,725.12 743.75,724.35 741.18,723.48 738.72,722.52 736.39,721.46 734.21,720.32 732.18,719.11 730.31,717.81 728.61,716.45 727.09,715.03 725.76,713.56 724.62,712.04 723.69,710.48 722.95,708.89 722.42,707.27 722.11,705.64 722.00,704.00" fill="none" stroke-width="2.2"/>
<line x1="722.00" y1="699.50" x2="722.00" y2="704.00" stroke-width="2.2"/>
<line x1="809.00" y1="699.50" x2="809.00" y2="704.00" stroke-width="2.2"/>
<path d="M 684.3,777 C 689,772 693,769.5 696,770 C 693,780 692.5,792 694.3,798.3 C 693,806 692,813 691.7,817.7 C 684,815 678,810 676.5,801 C 675.5,794 677,790 679,787.7" fill="#fff" stroke-width="2.2"/>
<path d="M 691.7,817.7 C 694,824 697,828 703,830 L 714,832.5 C 717,832 718,829 716,827" fill="none" stroke-width="2.2"/>
<path d="M 698.5,806 C 699,815 701,822 708,826 L 716,828" fill="none" stroke-width="2.6"/>
<path d="M 693.7,770 C 692.5,765 694,760.5 697,760.5 C 699.5,761 701,766 700,772" fill="none" stroke-width="1.8"/>
</g>
<g stroke="#000" fill="none">
<line x1="577.50" y1="20.00" x2="577.50" y2="178.00" stroke-width="1.9"/>
<line x1="578.00" y1="21.00" x2="638.00" y2="55.50" stroke-width="1.9"/>
<line x1="709.00" y1="96.00" x2="769.50" y2="130.50" stroke-width="1.9"/>
<polygon points="578.00,21.00 606.03,28.39 598.58,41.41" fill="#000" stroke="none"/>
<polygon points="769.50,130.50 741.47,123.11 748.92,110.09" fill="#000" stroke="none"/>
<line x1="769.50" y1="130.00" x2="769.50" y2="438.00" stroke-width="1.9"/>
<path d="M 654.50,91.00 L 654.50,60.93 L 651.52,60.93 C 650.26,63.70 647.11,66.22 643.12,68.11 L 643.12,71.47 C 645.85,70.42 648.37,69.16 650.30,67.69 L 650.30,91.00 Z" fill="#000" stroke="#000" stroke-width="0.3"/>
<text x="663.32" y="91.00" font-size="42" >25</text>
<line x1="578.00" y1="94.50" x2="624.00" y2="120.00" stroke-width="1.9"/>
<line x1="671.50" y1="146.50" x2="718.00" y2="172.50" stroke-width="1.9"/>
<polygon points="578.00,94.50 606.11,101.58 598.81,114.68" fill="#000" stroke="none"/>
<polygon points="718.00,172.50 689.89,165.42 697.19,152.32" fill="#000" stroke="none"/>
<line x1="718.00" y1="172.00" x2="718.00" y2="252.00" stroke-width="1.9"/>
<text x="624.65" y="147.50" font-size="42" >90</text>
<polyline points="396.00,261.00 477.50,261.00 540.00,319.00" fill="none" stroke-width="1.9"/>
<polygon points="540.00,319.00 514.37,305.45 524.58,294.46" fill="#000" stroke="none"/>
<text x="395.31" y="254.00" font-size="42" >Ø36</text>
<polyline points="905.00,250.00 823.75,250.00 685.00,328.75" fill="none" stroke-width="1.9"/>
<polygon points="685.00,328.75 705.65,308.41 713.05,321.45" fill="#000" stroke="none"/>
<text x="825.31" y="240.00" font-size="42" >Ø2</text>
<path d="M 895.87,240.00 L 895.87,209.93 L 892.89,209.93 C 891.63,212.70 888.48,215.22 884.49,217.11 L 884.49,220.47 C 887.22,219.42 889.74,218.16 891.67,216.69 L 891.67,240.00 Z" fill="#000" stroke="#000" stroke-width="0.3"/>
<polyline points="392.50,612.00 473.75,612.00 521.50,556.00 552.50,516.00" fill="none" stroke-width="1.9"/>
<polygon points="552.50,516.00 541.24,545.23 527.01,534.20" fill="#000" stroke="none"/>
<text x="391.31" y="602.50" font-size="42" >Ø50</text>
<polyline points="617.50,644.00 698.75,644.00 711.00,694.00" fill="none" stroke-width="1.9"/>
<polygon points="711.00,694.00 697.05,668.59 711.62,665.02" fill="#000" stroke="none"/>
<text x="617.31" y="634.00" font-size="42" >Ø63</text>
<polyline points="626.50,964.70 719.30,964.70 738.00,924.00 750.00,897.50" fill="none" stroke-width="1.9"/>
<polygon points="750.00,897.50 745.28,926.10 731.62,919.91" fill="#000" stroke="none"/>
<polyline points="424.00,1174.70 494.00,1174.70 522.00,1155.30 549.30,1140.00" fill="none" stroke-width="1.9"/>
<polygon points="549.30,1140.00 528.54,1160.23 521.21,1147.15" fill="#000" stroke="none"/>
<line x1="302.50" y1="327.50" x2="302.50" y2="620.00" stroke-width="1.9"/>
<line x1="302.50" y1="672.50" x2="302.50" y2="967.50" stroke-width="1.9"/>
<polygon points="302.50,327.50 310.00,355.50 295.00,355.50" fill="#000" stroke="none"/>
<polygon points="302.50,967.50 295.00,939.50 310.00,939.50" fill="#000" stroke="none"/>
<text x="267.47" y="662.50" font-size="42" >355</text>
<line x1="301.00" y1="327.50" x2="538.50" y2="464.60" stroke-width="1.9"/>
<line x1="620.50" y1="511.00" x2="1083.75" y2="777.00" stroke-width="1.9"/>
<line x1="302.50" y1="967.50" x2="550.00" y2="1107.50" stroke-width="1.9"/>
<polygon points="384.50,375.00 377.00,347.00 392.00,347.00" fill="#000" stroke="none"/>
<line x1="384.50" y1="418.75" x2="384.50" y2="481.00" stroke-width="1.9"/>
<polygon points="384.50,418.75 392.00,446.75 377.00,446.75" fill="#000" stroke="none"/>
<line x1="383.75" y1="418.75" x2="527.50" y2="500.00" stroke-width="1.9"/>
<path d="M 358.51,519.00 L 358.51,488.93 L 355.53,488.93 C 354.27,491.70 351.12,494.22 347.13,496.11 L 347.13,499.47 C 349.86,498.42 352.38,497.16 354.31,495.69 L 354.31,519.00 Z" fill="#000" stroke="#000" stroke-width="0.3"/>
<text x="367.33" y="519.00" font-size="42" >-40</text>
<line x1="905.50" y1="528.75" x2="905.50" y2="579.00" stroke-width="1.9"/>
<line x1="905.50" y1="625.00" x2="905.50" y2="674.70" stroke-width="1.9"/>
<polygon points="905.50,528.75 913.00,556.75 898.00,556.75" fill="#000" stroke="none"/>
<polygon points="905.50,674.70 898.00,646.70 913.00,646.70" fill="#000" stroke="none"/>
<line x1="784.00" y1="460.00" x2="905.50" y2="528.75" stroke-width="1.9"/>
<text x="882.40" y="615.00" font-size="42" >80</text>
<line x1="988.75" y1="512.50" x2="988.75" y2="592.00" stroke-width="1.9"/>
<line x1="988.75" y1="640.00" x2="988.75" y2="722.50" stroke-width="1.9"/>
<polygon points="988.75,512.50 996.25,540.50 981.25,540.50" fill="#000" stroke="none"/>
<polygon points="988.75,722.50 981.25,694.50 996.25,694.50" fill="#000" stroke="none"/>
<line x1="683.00" y1="336.70" x2="988.75" y2="512.50" stroke-width="1.9"/>
<path d="M 968.50,630.00 L 968.50,599.93 L 965.52,599.93 C 964.26,602.70 961.11,605.22 957.12,607.11 L 957.12,610.47 C 959.85,609.42 962.37,608.16 964.30,606.69 L 964.30,630.00 Z" fill="#000" stroke="#000" stroke-width="0.3"/>
<path d="M 991.86,630.00 L 991.86,599.93 L 988.87,599.93 C 987.61,602.70 984.46,605.22 980.47,607.11 L 980.47,610.47 C 983.20,609.42 985.72,608.16 987.66,606.69 L 987.66,630.00 Z" fill="#000" stroke="#000" stroke-width="0.3"/>
<text x="1000.68" y="630.00" font-size="42" >5</text>
<line x1="1083.75" y1="467.50" x2="1083.75" y2="597.50" stroke-width="1.9"/>
<line x1="1083.75" y1="646.00" x2="1083.75" y2="777.00" stroke-width="1.9"/>
<polygon points="1083.75,467.50 1091.25,495.50 1076.25,495.50" fill="#000" stroke="none"/>
<polygon points="1083.75,777.00 1076.25,749.00 1091.25,749.00" fill="#000" stroke="none"/>
<line x1="725.00" y1="262.50" x2="1083.75" y2="467.50" stroke-width="1.9"/>
<path d="M 1064.50,635.00 L 1064.50,604.93 L 1061.52,604.93 C 1060.26,607.70 1057.11,610.22 1053.12,612.11 L 1053.12,615.47 C 1055.85,614.42 1058.37,613.16 1060.30,611.69 L 1060.30,635.00 Z" fill="#000" stroke="#000" stroke-width="0.3"/>
<text x="1073.32" y="635.00" font-size="42" >70</text>
<line x1="882.50" y1="767.50" x2="882.50" y2="890.00" stroke-width="1.9"/>
<polygon points="882.50,767.50 890.00,795.50 875.00,795.50" fill="#000" stroke="none"/>
<polygon points="882.50,857.50 875.00,829.50 890.00,829.50" fill="#000" stroke="none"/>
<line x1="765.00" y1="700.00" x2="882.50" y2="767.50" stroke-width="1.9"/>
<line x1="815.00" y1="822.00" x2="882.50" y2="857.50" stroke-width="1.9"/>
<text x="859.65" y="927.50" font-size="42" >50</text>
<line x1="782.00" y1="466.00" x2="845.50" y2="545.50" stroke-width="1.9"/>
<path d="M 853,470 C 860,510 845,560 800,562 C 780,563 765,552 752,538" fill="none" stroke-width="1.7"/>
<polygon points="855.00,499.50 846.62,472.22 857.57,471.08" fill="#000" stroke="none"/>
<polygon points="843.80,542.70 832.76,562.97 823.07,552.86" fill="#000" stroke="none"/>
<text x="626.00" y="954.70" font-size="42" >G</text>
<path d="M 673.53,954.70 L 673.53,924.63 L 670.55,924.63 C 669.29,927.40 666.14,929.92 662.15,931.81 L 662.15,935.17 C 664.88,934.12 667.40,932.86 669.33,931.39 L 669.33,954.70 Z" fill="#000" stroke="#000" stroke-width="0.3"/>
<path d="M 690.27,938.70 L 690.27,923.66 L 688.77,923.66 C 688.14,925.05 686.57,926.31 684.58,927.25 L 684.58,928.94 C 685.94,928.41 687.20,927.78 688.17,927.05 L 688.17,938.70 Z" fill="#000" stroke="#000" stroke-width="0.9"/>
<text x="702.00" y="954.70" font-size="23.5" style="stroke-width:1.1px" >4</text>
<line x1="688.70" y1="954.70" x2="712.70" y2="924.00" stroke-width="2.6"/>
<text x="424.00" y="1164.70" font-size="42" >G</text>
<text x="456.50" y="1148.00" font-size="20" style="stroke-width:1.1px" >3</text>
<text x="477.50" y="1164.70" font-size="22" style="stroke-width:1.1px" >8</text>
<line x1="462.00" y1="1164.70" x2="486.70" y2="1133.30" stroke-width="2.6"/>
<text x="0" y="0" font-size="40" transform="translate(757,533) rotate(21)">30°</text>
</g>
</svg>
</body></html>
